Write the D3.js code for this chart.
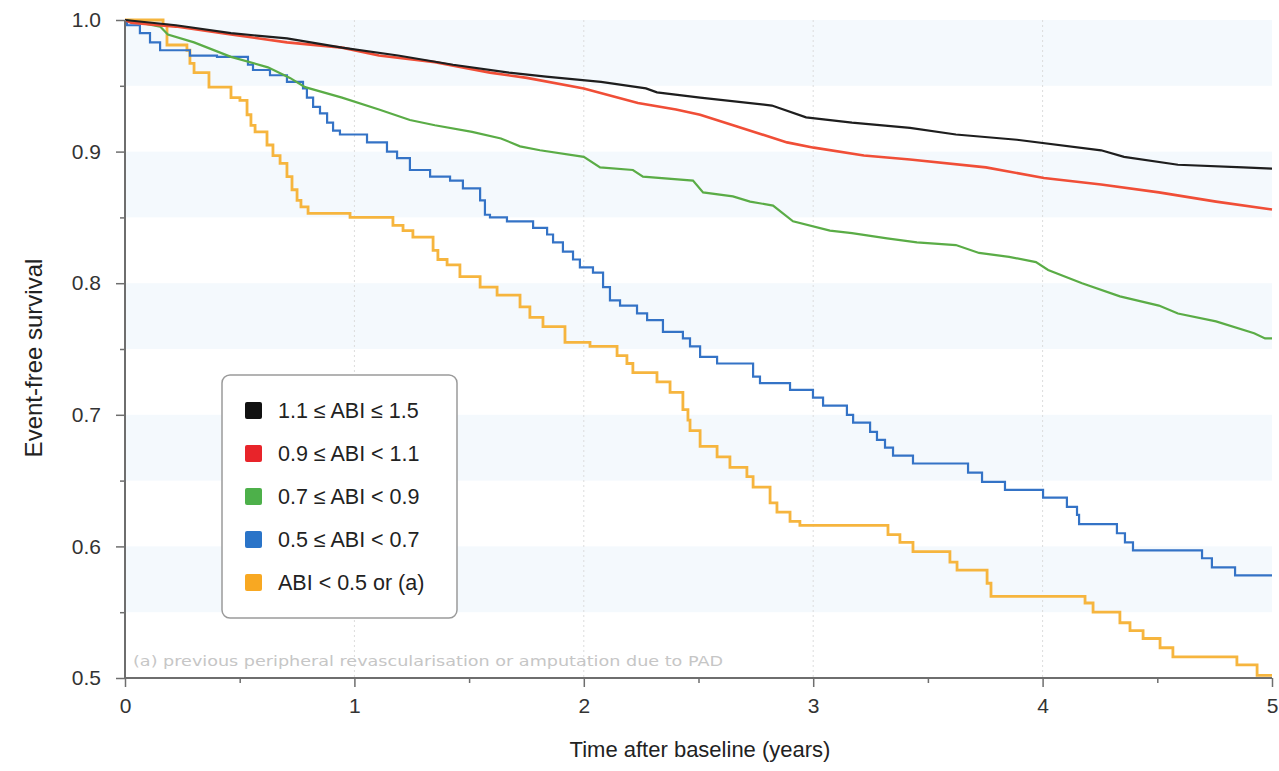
<!DOCTYPE html>
<html>
<head>
<meta charset="utf-8">
<script src="https://cdn.jsdelivr.net/npm/d3@7"></script>
<style>
  html, body { margin: 0; padding: 0; background: #fff; }
  svg { display: block; font-family: "Liberation Sans", Arial, sans-serif; }
</style>
</head>
<body>
<svg id="chart" width="1279" height="771"></svg>
<script>
// ---------- data (time in years, event-free survival) ----------
const seriesNames = ["1.1 \u2264 ABI \u2264 1.5", "0.9 \u2264 ABI < 1.1", "0.7 \u2264 ABI < 0.9", "0.5 \u2264 ABI < 0.7", "ABI < 0.5 or (a)"];
const seriesColors = ["#1e1e1e", "#f04e37", "#5aac46", "#3473c6", "#f6b53e"];
const legendColors = ["#111111", "#e8242a", "#4db04a", "#2a74c8", "#f8a822"];

const blackTime = [0, 0.222, 0.462, 0.706, 0.946, 1.190, 1.430, 1.674, 1.835, 2.075, 2.271, 2.319, 2.507, 2.820, 2.969, 3.169, 3.422, 3.622, 3.888, 4.255, 4.355, 4.590, 4.874, 5.0];
const blackSurv = [1.0, 0.996, 0.990, 0.986, 0.979, 0.973, 0.966, 0.960, 0.957, 0.953, 0.948, 0.945, 0.941, 0.935, 0.926, 0.922, 0.918, 0.913, 0.909, 0.901, 0.896, 0.890, 0.888, 0.887];

const redTime = [0, 0.026, 0.222, 0.462, 0.706, 0.946, 1.107, 1.351, 1.591, 1.752, 2.0, 2.236, 2.402, 2.507, 2.668, 2.886, 3.003, 3.221, 3.422, 3.753, 4.006, 4.255, 4.507, 4.756, 5.0];
const redSurv = [1.0, 0.998, 0.995, 0.989, 0.983, 0.979, 0.973, 0.968, 0.960, 0.956, 0.948, 0.937, 0.932, 0.928, 0.919, 0.907, 0.903, 0.897, 0.894, 0.888, 0.880, 0.875, 0.869, 0.862, 0.856];

const greenTime = [0, 0.065, 0.153, 0.170, 0.187, 0.301, 0.462, 0.623, 0.719, 0.785, 0.946, 1.107, 1.242, 1.351, 1.513, 1.639, 1.722, 1.809, 2.0, 2.071, 2.214, 2.258, 2.476, 2.520, 2.650, 2.725, 2.825, 2.912, 3.073, 3.169, 3.322, 3.452, 3.622, 3.723, 3.854, 3.971, 4.024, 4.172, 4.337, 4.507, 4.590, 4.756, 4.922, 4.970, 5.0];
const greenSurv = [1.0, 0.998, 0.995, 0.992, 0.989, 0.983, 0.972, 0.964, 0.956, 0.949, 0.941, 0.932, 0.924, 0.920, 0.915, 0.910, 0.904, 0.901, 0.896, 0.888, 0.886, 0.881, 0.878, 0.869, 0.866, 0.862, 0.859, 0.847, 0.840, 0.838, 0.834, 0.831, 0.829, 0.823, 0.820, 0.816, 0.810, 0.800, 0.790, 0.783, 0.777, 0.771, 0.762, 0.758, 0.758];

const blueTime = [0, 0.009, 0.065, 0.109, 0.153, 0.283, 0.401, 0.536, 0.558, 0.632, 0.706, 0.776, 0.793, 0.820, 0.850, 0.881, 0.907, 0.937, 1.055, 1.142, 1.186, 1.242, 1.330, 1.417, 1.473, 1.548, 1.569, 1.591, 1.665, 1.779, 1.840, 1.866, 1.909, 1.953, 1.983, 2.040, 2.084, 2.114, 2.158, 2.232, 2.276, 2.345, 2.432, 2.463, 2.507, 2.581, 2.738, 2.768, 2.899, 2.999, 3.043, 3.147, 3.174, 3.248, 3.278, 3.313, 3.348, 3.435, 3.675, 3.736, 3.836, 4.002, 4.106, 4.150, 4.159, 4.324, 4.359, 4.394, 4.695, 4.738, 4.839, 5.0];
const blueSurv = [1.0, 0.996, 0.990, 0.983, 0.977, 0.973, 0.972, 0.966, 0.962, 0.958, 0.953, 0.948, 0.941, 0.934, 0.929, 0.922, 0.916, 0.913, 0.907, 0.900, 0.895, 0.886, 0.881, 0.878, 0.872, 0.863, 0.852, 0.850, 0.847, 0.842, 0.837, 0.831, 0.824, 0.818, 0.812, 0.808, 0.797, 0.787, 0.783, 0.777, 0.772, 0.763, 0.758, 0.752, 0.744, 0.739, 0.729, 0.724, 0.719, 0.713, 0.707, 0.700, 0.694, 0.687, 0.681, 0.675, 0.669, 0.663, 0.656, 0.649, 0.643, 0.637, 0.630, 0.624, 0.617, 0.610, 0.603, 0.597, 0.591, 0.584, 0.578, 0.578];

const orangeTime = [0, 0.166, 0.183, 0.270, 0.283, 0.301, 0.366, 0.462, 0.501, 0.532, 0.549, 0.567, 0.619, 0.645, 0.676, 0.706, 0.728, 0.750, 0.767, 0.798, 0.981, 1.168, 1.212, 1.255, 1.343, 1.364, 1.404, 1.460, 1.548, 1.622, 1.722, 1.765, 1.822, 1.918, 2.027, 2.145, 2.188, 2.214, 2.319, 2.376, 2.432, 2.454, 2.463, 2.507, 2.581, 2.637, 2.711, 2.738, 2.812, 2.842, 2.899, 2.942, 3.326, 3.378, 3.435, 3.596, 3.627, 3.758, 3.775, 4.185, 4.220, 4.337, 4.381, 4.438, 4.512, 4.568, 4.847, 4.935, 5.0];
const orangeSurv = [1.0, 0.996, 0.981, 0.977, 0.967, 0.960, 0.949, 0.941, 0.939, 0.928, 0.920, 0.915, 0.905, 0.897, 0.891, 0.881, 0.871, 0.863, 0.858, 0.853, 0.850, 0.844, 0.840, 0.835, 0.825, 0.818, 0.814, 0.805, 0.797, 0.791, 0.782, 0.774, 0.767, 0.755, 0.752, 0.745, 0.739, 0.732, 0.725, 0.717, 0.704, 0.696, 0.688, 0.676, 0.668, 0.660, 0.653, 0.645, 0.633, 0.626, 0.619, 0.616, 0.609, 0.603, 0.596, 0.588, 0.582, 0.572, 0.562, 0.557, 0.550, 0.542, 0.536, 0.530, 0.523, 0.516, 0.510, 0.502, 0.502];

const xTicks = [0, 1, 2, 3, 4, 5];
const xMinorTicks = [0.5, 1.5, 2.5, 3.5, 4.5];
const yTicks = [0.5, 0.6, 0.7, 0.8, 0.9, 1.0];
const yMinorTicks = [0.55, 0.65, 0.75, 0.85, 0.95];
const bandStarts = [1.0, 0.9, 0.8, 0.7, 0.6];
const xTitle = "Time after baseline (years)";
const yTitle = "Event-free survival";
const footnote = "(a) previous peripheral revascularisation or amputation due to PAD";

// ---------- layout ----------
const svg = d3.select("#chart");
const pLeft = 125, pRight = 1272, pTop = 20, pBottom = 678;
const x = d3.scaleLinear().domain([0, 5]).range([pLeft, pRight]);
const y = d3.scaleLinear().domain([0.5, 1.0]).range([pBottom, pTop]);

// background bands
svg.append("g").selectAll("rect").data(bandStarts).join("rect")
  .attr("x", pLeft).attr("width", pRight - pLeft)
  .attr("y", d => y(d)).attr("height", d => y(d - 0.05) - y(d))
  .attr("fill", "#f4f9fd");

// vertical dotted grid
svg.append("g").selectAll("line").data(xTicks.filter(d => d > 0 && d < 5)).join("line")
  .attr("x1", d => x(d)).attr("x2", d => x(d))
  .attr("y1", pTop).attr("y2", pBottom)
  .attr("stroke", "#dcdcdc").attr("stroke-width", 1).attr("stroke-dasharray", "2,3");

// footnote
svg.append("text").attr("x", 133).attr("y", 666)
  .attr("font-family", "'DejaVu Sans', sans-serif")
  .attr("font-size", 14).attr("fill", "#c6c6c6")
  .attr("textLength", 590).attr("lengthAdjust", "spacingAndGlyphs")
  .text(footnote);

// curves
const series = [
  { t: blackTime, s: blackSurv, step: false, w: 2.2 },
  { t: redTime, s: redSurv, step: false, w: 2.6 },
  { t: greenTime, s: greenSurv, step: false, w: 2.2 },
  { t: blueTime, s: blueSurv, step: true, w: 2.2 },
  { t: orangeTime, s: orangeSurv, step: true, w: 2.8 }
];
const drawOrder = [4, 3, 2, 1, 0];
drawOrder.forEach(i => {
  const sr = series[i];
  const pts = sr.t.map((t, k) => [t, sr.s[k]]);
  const line = d3.line().x(d => x(d[0])).y(d => y(d[1]))
    .curve(sr.step ? d3.curveStepAfter : d3.curveLinear);
  svg.append("path").datum(pts).attr("d", line)
    .attr("fill", "none").attr("stroke", seriesColors[i])
    .attr("stroke-width", sr.w).attr("stroke-linejoin", "miter");
});

// axes
const axisColor = "#6e6e6e";
const yAxis = d3.axisLeft(y).tickValues(yTicks).tickFormat(d3.format(".1f")).tickSize(9).tickPadding(15);
const yG = svg.append("g").attr("transform", `translate(${pLeft},0)`).call(yAxis);
const yMinor = d3.axisLeft(y).tickValues(yMinorTicks).tickFormat("").tickSize(5);
const yG2 = svg.append("g").attr("transform", `translate(${pLeft},0)`).call(yMinor);

const xAxis = d3.axisBottom(x).tickValues(xTicks).tickFormat(d3.format("d")).tickSize(9).tickPadding(11);
const xG = svg.append("g").attr("transform", `translate(0,${pBottom})`).call(xAxis);
const xMinor = d3.axisBottom(x).tickValues(xMinorTicks).tickFormat("").tickSize(5);
const xG2 = svg.append("g").attr("transform", `translate(0,${pBottom})`).call(xMinor);

[yG, yG2, xG, xG2].forEach(g => {
  g.select(".domain").attr("stroke", axisColor).attr("stroke-width", 2);
  g.selectAll(".tick line").attr("stroke", axisColor).attr("stroke-width", 1.5);
  g.selectAll(".tick text").attr("font-size", 21).attr("fill", "#333")
    .attr("font-family", "'Liberation Sans', Arial, sans-serif");
});
yG.select(".domain").attr("d", `M0,${pTop}V${pBottom}`);
yG2.select(".domain").remove();
xG2.select(".domain").remove();
xG.select(".domain").attr("d", `M${pLeft},0H${pRight}`);

// axis titles
svg.append("text").attr("x", 700).attr("y", 757).attr("text-anchor", "middle")
  .attr("font-size", 22).attr("fill", "#222").text(xTitle);
svg.append("text").attr("transform", "translate(42,358) rotate(-90)")
  .attr("text-anchor", "middle").attr("font-size", 24).attr("fill", "#222").text(yTitle);

// legend
const lg = svg.append("g");
lg.append("rect").attr("x", 222).attr("y", 375).attr("width", 235).attr("height", 243)
  .attr("rx", 8).attr("fill", "#fff").attr("stroke", "#9a9a9a").attr("stroke-width", 1.5);
const rowY = d3.scalePoint().domain(d3.range(seriesNames.length)).range([410, 582]);
seriesNames.forEach((name, i) => {
  lg.append("rect").attr("x", 245).attr("y", rowY(i) - 8).attr("width", 17).attr("height", 17)
    .attr("rx", 2).attr("fill", legendColors[i]);
  lg.append("text").attr("x", 278).attr("y", rowY(i) + 8)
    .attr("font-size", 21.5).attr("fill", "#222").text(name);
});
</script>
</body>
</html>
